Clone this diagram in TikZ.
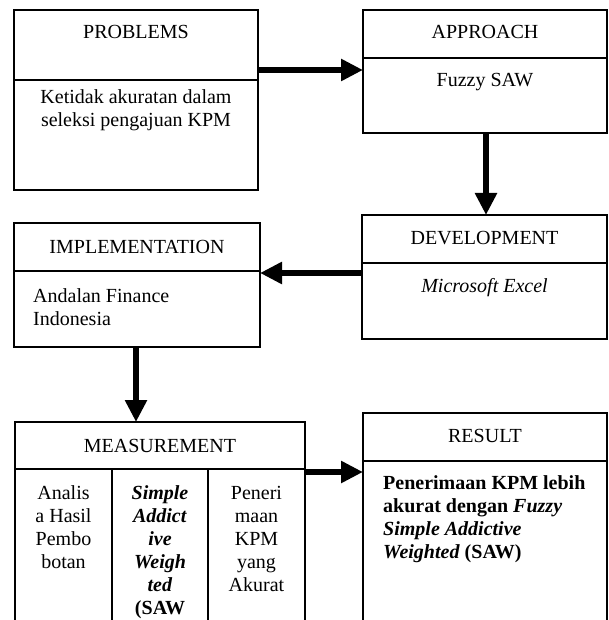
\documentclass[tikz,border=0pt]{standalone}
\usepackage{fontspec}
\setmainfont{Liberation Serif}
\usetikzlibrary{arrows.meta}
\begin{document}
\begin{tikzpicture}[x=1pt,y=-1pt,
  box/.style={draw, line width=1.3pt, inner sep=0pt, outer sep=0pt, anchor=north west},
  divider/.style={line width=1.3pt},
  txt/.style={inner sep=0pt, anchor=base, font=\fontsize{20}{23}\selectfont},
  ltxt/.style={txt, anchor=base west},
  btxt/.style={txt, font=\fontsize{20}{23}\selectfont\bfseries},
  arr/.style={line width=6.5pt, -{Triangle[length=22pt,width=21pt]}}]
\useasboundingbox (0,0) rectangle (608,620);
\clip (0,0) rectangle (608,620);
% boxes
\node[box, minimum width=244pt, minimum height=180pt] (prob) at (14,10) {};
\node[box, minimum width=244pt, minimum height=123pt] (appr) at (363,10) {};
\node[box, minimum width=245pt, minimum height=124pt] (dev) at (362,215) {};
\node[box, minimum width=246pt, minimum height=124pt] (impl) at (14,223) {};
\node[box, minimum width=290pt, minimum height=230pt] (meas) at (15,422) {};
\node[box, minimum width=244pt, minimum height=240pt] (res) at (363,413) {};
% dividers
\draw[divider] (prob.west |- 0,80) -- (prob.east |- 0,80);
\draw[divider] (appr.west |- 0,58) -- (appr.east |- 0,58);
\draw[divider] (dev.west |- 0,263) -- (dev.east |- 0,263);
\draw[divider] (impl.west |- 0,271) -- (impl.east |- 0,271);
\draw[divider] (meas.west |- 0,469) -- (meas.east |- 0,469);
\draw[divider] (112,469) -- (112,660);
\draw[divider] (208,469) -- (208,660);
\draw[divider] (res.west |- 0,461) -- (res.east |- 0,461);
% arrows
\draw[arr] (prob.east |- 0,70) -- (appr.west |- 0,70);
\draw[arr] (appr.south -| 486,0) -- (dev.north -| 486,0);
\draw[arr] (dev.west |- 0,273) -- (impl.east |- 0,273);
\draw[arr] (impl.south -| 136,0) -- (meas.north -| 136,0);
\draw[arr] (meas.east |- 0,472) -- (res.west |- 0,472);
% texts
\node[txt] (probT) at (136,39) {PROBLEMS};
\node[txt] (probB) at (136,104) {\begin{tabular}[t]{@{}c@{}}Ketidak akuratan dalam\\seleksi pengajuan KPM\end{tabular}};
\node[txt] (apprT) at (485,39) {APPROACH};
\node[txt] (apprB) at (485,87) {Fuzzy SAW};
\node[txt] (devT) at (484.5,244) {DEVELOPMENT};
\node[txt] (devB) at (484.5,292) {\textit{Microsoft Excel}};
\node[txt] (implT) at (137,253) {IMPLEMENTATION};
\node[ltxt] (implB) at (33,302) {\begin{tabular}[t]{@{}l@{}}Andalan Finance\\Indonesia\end{tabular}};
\node[txt] (measT) at (160,452) {MEASUREMENT};
\node[txt] (meas1) at (63.5,499) {\begin{tabular}[t]{@{}c@{}}Analis\\a Hasil\\Pembo\\botan\end{tabular}};
\node[btxt] (meas2) at (160,499) {\begin{tabular}[t]{@{}c@{}}\textit{Simple}\\\textit{Addict}\\\textit{ive}\\\textit{Weigh}\\\textit{ted}\\(SAW\end{tabular}};
\node[txt] (meas3) at (256.5,499) {\begin{tabular}[t]{@{}c@{}}Peneri\\maan\\KPM\\yang\\Akurat\end{tabular}};
\node[txt] (resT) at (485,442) {RESULT};
\node[btxt, anchor=base west] (resB) at (383,489) {\begin{tabular}[t]{@{}l@{}}Penerimaan KPM lebih\\akurat dengan \textit{Fuzzy}\\\textit{Simple Addictive}\\\textit{Weighted} (SAW)\end{tabular}};
\end{tikzpicture}
\end{document}
